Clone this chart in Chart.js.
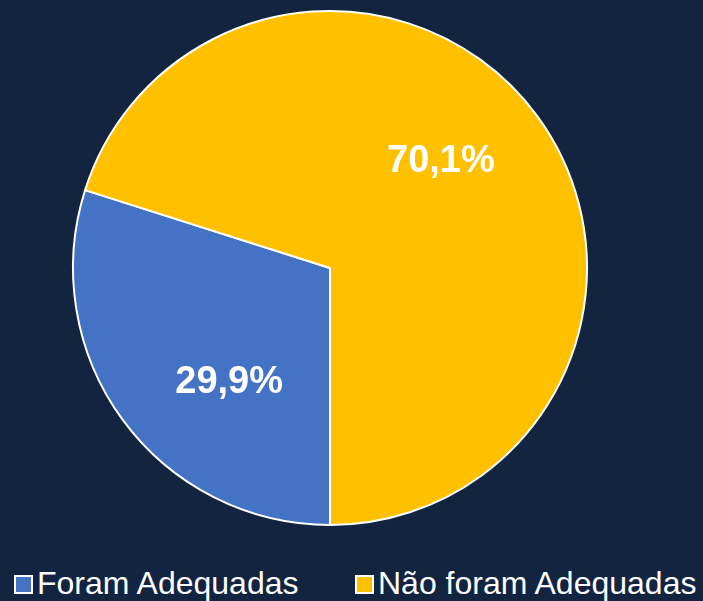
<!DOCTYPE html>
<html>
<head>
<meta charset="utf-8">
<script src="https://cdn.jsdelivr.net/npm/chart.js@4"></script>
<style>
  html, body { margin: 0; padding: 0; background: #12243f; }
  #wrap { position: relative; width: 703px; height: 601px; overflow: hidden; }
  #chartBox { position: absolute; left: 0; top: 0; width: 703px; height: 540px; }
  .legendItem { position: absolute; top: 567px; display: flex; align-items: center;
    font-family: "Liberation Sans", Arial, sans-serif; font-size: 32px; line-height: 32px; color: #ffffff; white-space: nowrap; }
  .legendBox { width: 15px; height: 15px; border: 2px solid #ffffff; margin-right: 4px; margin-top: 2px; }
</style>
</head>
<body>
<div id="wrap">
  <div id="chartBox"><canvas id="pieChart"></canvas></div>
  <div id="legend"></div>
</div>
<script>
const categories = ["Foram Adequadas", "Não foram Adequadas"];
const percentValues = [29.9, 70.1];
const sliceColors = ["#4472c4", "#ffc000"];

// labels drawn inside the slices, like the Excel data labels
const sliceLabelPlugin = {
  id: "sliceLabels",
  afterDatasetsDraw(chart) {
    const ctx = chart.ctx;
    const meta = chart.getDatasetMeta(0);
    ctx.save();
    ctx.fillStyle = "#ffffff";
    ctx.font = "bold 38px 'Liberation Sans', Arial, sans-serif";
    ctx.textAlign = "center";
    ctx.textBaseline = "middle";
    meta.data.forEach((arc, i) => {
      const mid = (arc.startAngle + arc.endAngle) / 2 - 10 * Math.PI / 180;
      const r = arc.outerRadius * 0.595;
      const x = arc.x + Math.cos(mid) * r + 5;
      const y = arc.y + Math.sin(mid) * r + 4;
      ctx.fillText(percentValues[i].toFixed(1).replace(".", ",") + "%", x, y);
    });
    ctx.restore();
  }
};

let pieChart = new Chart(document.getElementById("pieChart").getContext("2d"), {
  type: "pie",
  data: {
    labels: categories,
    datasets: [{
      data: percentValues,
      backgroundColor: sliceColors,
      borderColor: "#ffffff",
      borderWidth: 2,
      hoverOffset: 0,
      offset: 0
    }]
  },
  options: {
    responsive: true,
    maintainAspectRatio: false,
    animation: false,
    rotation: 180,
    layout: { padding: { left: 0, right: 43, top: 10, bottom: 14 } },
    plugins: {
      legend: { display: false },
      tooltip: { enabled: false }
    }
  },
  plugins: [sliceLabelPlugin]
});

// legend under the pie
const legendLefts = [14, 355];
const legendDiv = document.getElementById("legend");
categories.forEach((name, i) => {
  const item = document.createElement("div");
  item.className = "legendItem";
  item.style.left = legendLefts[i] + "px";
  item.innerHTML = `<span class="legendBox" style="background:${sliceColors[i]}"></span><span>${name}</span>`;
  legendDiv.appendChild(item);
});
</script>
</body>
</html>
